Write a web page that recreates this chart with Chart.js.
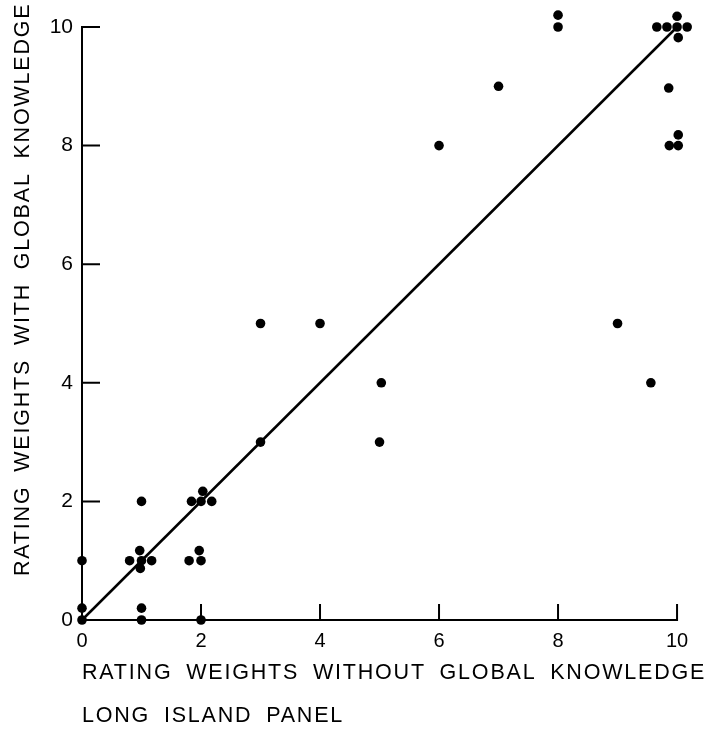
<!DOCTYPE html>
<html>
<head>
<meta charset="utf-8">
<style>
  html, body { margin: 0; padding: 0; background: #fff; }
  #wrap { width: 715px; height: 729px; }
</style>
<script src="https://cdn.jsdelivr.net/npm/chart.js@4/dist/chart.umd.min.js"></script>
</head>
<body>
<div id="wrap"><canvas id="c" width="715" height="729"></canvas></div>
<script>
// Panel ratings: weight without global knowledge (x) vs with global knowledge (y)
const withoutGlobal = [
  0, 0, 0,
  0.8, 1, 1.17, 0.97, 0.98, 1, 1, 1,
  1.8, 2, 1.97, 1.84, 2, 2.18, 2.03, 2,
  3, 3, 4, 5.03, 5, 6, 7, 8, 8, 9, 9.56,
  9.66, 9.83, 10, 10.17, 10, 10.02, 9.86, 10.02, 9.87, 10.02
];
const withGlobal = [
  0, 0.2, 1,
  1, 1, 1, 1.17, 0.87, 2, 0.2, 0,
  1, 1, 1.17, 2, 2, 2, 2.17, 0,
  3, 5, 5, 4, 3, 8, 9, 10.2, 10, 5, 4,
  10, 10, 10, 10, 10.18, 9.82, 8.97, 8.18, 8, 8
];
// Reference line of equal weights
const diagonalX = [0, 10];
const diagonalY = [0, 10];
// Axis ticks; the axes are drawn from 0 to 10, with a little room beyond for points past 10
const tickValues = [0, 2, 4, 6, 8, 10];
const axisMin = 0;
const axisEnd = 10;
const scaleMax = 10.3;
const xTitleLines = ['RATING WEIGHTS WITHOUT GLOBAL KNOWLEDGE', 'LONG ISLAND PANEL'];
const yTitle = 'RATING WEIGHTS WITH GLOBAL KNOWLEDGE';

const FONT = '"Liberation Sans", Arial, sans-serif';

const points = withoutGlobal.map((x, i) => ({ x, y: withGlobal[i] }));
const diagonal = diagonalX.map((x, i) => ({ x, y: diagonalY[i] }));

// Axis lines, inward tick marks and lettered axis captions
const axisDecor = {
  id: 'axisDecor',
  beforeDatasetsDraw(chart) {
    const { ctx, scales } = chart;
    const x0 = scales.x.getPixelForValue(axisMin);
    const x1 = scales.x.getPixelForValue(axisEnd);
    const y0 = scales.y.getPixelForValue(axisMin);
    const y1 = scales.y.getPixelForValue(axisEnd);
    ctx.save();
    ctx.strokeStyle = '#000';
    ctx.lineWidth = 2;
    ctx.lineCap = 'square';
    ctx.beginPath();
    ctx.moveTo(x0, y1);
    ctx.lineTo(x0, y0);
    ctx.lineTo(x1, y0);
    tickValues.forEach(v => {
      if (v === axisMin) return;
      const px = scales.x.getPixelForValue(v);
      ctx.moveTo(px, y0);
      ctx.lineTo(px, y0 - 15);
      const py = scales.y.getPixelForValue(v);
      ctx.moveTo(x0, py);
      ctx.lineTo(x0 + 17, py);
    });
    ctx.stroke();
    ctx.restore();
  },
  afterDraw(chart) {
    const { ctx, scales } = chart;
    const left = scales.x.getPixelForValue(axisMin);
    const bottom = scales.y.getPixelForValue(axisMin);
    ctx.save();
    ctx.fillStyle = '#000';
    ctx.font = '21.5px ' + FONT;
    ctx.letterSpacing = '1.8px';
    ctx.wordSpacing = '6px';
    ctx.textAlign = 'left';
    ctx.textBaseline = 'alphabetic';
    ctx.fillText(xTitleLines[0], left, bottom + 58.5);
    ctx.fillText(xTitleLines[1], left, bottom + 102);

    ctx.translate(left - 53, bottom - 44);
    ctx.rotate(-Math.PI / 2);
    ctx.fillText(yTitle, 0, 0);
    ctx.restore();
  }
};

new Chart(document.getElementById('c'), {
  type: 'scatter',
  data: {
    datasets: [
      {
        type: 'line',
        data: diagonal,
        borderColor: '#000',
        borderWidth: 2.5,
        pointRadius: 0,
        fill: false,
        clip: false,
        order: 2
      },
      {
        data: points,
        backgroundColor: '#000',
        borderWidth: 0,
        pointRadius: 4.8,
        pointHoverRadius: 4.8,
        clip: false,
        order: 1
      }
    ]
  },
  options: {
    responsive: false,
    devicePixelRatio: 1,
    animation: false,
    events: [],
    layout: { padding: { left: 0, top: 9.2, right: 20.1, bottom: 0 } },
    plugins: { legend: { display: false }, tooltip: { enabled: false } },
    scales: {
      x: {
        type: 'linear',
        min: axisMin,
        max: scaleMax,
        afterBuildTicks: s => { s.ticks = tickValues.map(v => ({ value: v })); },
        afterFit: s => { s.height = 109; s.paddingLeft = 0; s.paddingRight = 0; },
        border: { display: false },
        grid: { display: false, drawTicks: false },
        ticks: { color: '#000', padding: 9, font: { family: FONT, size: 20 } }
      },
      y: {
        type: 'linear',
        min: axisMin,
        max: scaleMax,
        afterBuildTicks: s => { s.ticks = tickValues.map(v => ({ value: v })); },
        afterFit: s => { s.width = 82; s.paddingTop = 0; s.paddingBottom = 0; },
        border: { display: false },
        grid: { display: false, drawTicks: false },
        ticks: { color: '#000', padding: 9, font: { family: FONT, size: 21 } }
      }
    }
  },
  plugins: [axisDecor]
});
</script>
</body>
</html>
